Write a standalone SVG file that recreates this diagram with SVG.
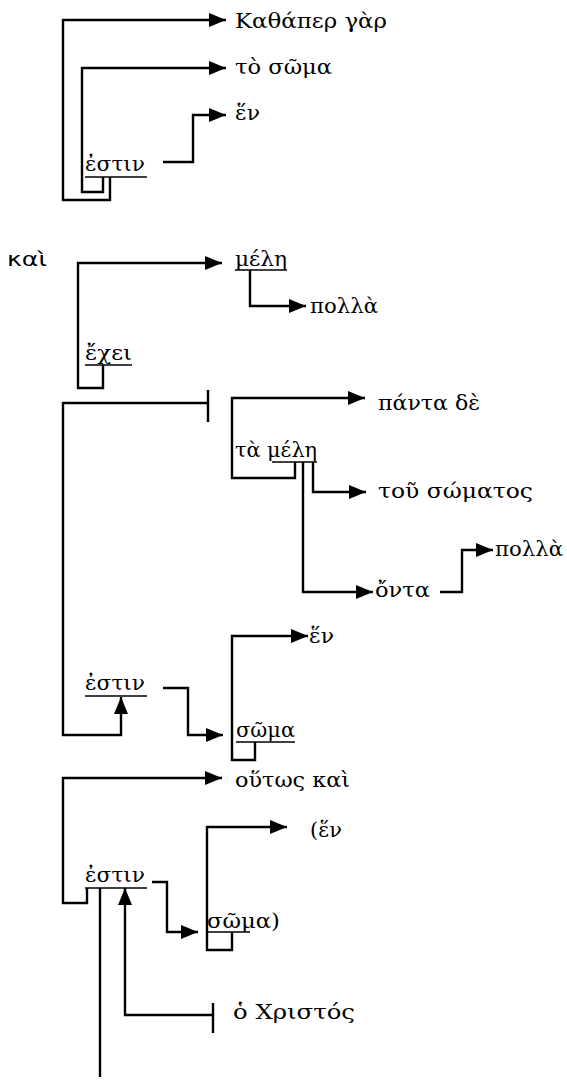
<svg xmlns="http://www.w3.org/2000/svg" width="567" height="1084" viewBox="0 0 567 1084">
<defs>
<marker id="ah" markerUnits="userSpaceOnUse" markerWidth="18" markerHeight="14" refX="17" refY="7" orient="auto">
<path d="M0,0 L17,7 L0,14 Z" fill="#000"/>
</marker>
<style>
.t{font-family:"DejaVu Serif","Liberation Serif",serif;font-size:20px;fill:#000}
.s{font-family:"DejaVu Sans","Noto Sans",sans-serif;font-size:20px;fill:#000}
.c{fill:none;stroke:#000;stroke-width:2.4}
.a{marker-end:url(#ah)}
.u{fill:none;stroke:#000;stroke-width:1.5}
</style>
</defs>
<rect width="567" height="1084" fill="#fff"/>
<g id="connectors">
<path class="c a" d="M110,177 V200 H63 V20 H226"/>
<path class="c a" d="M103,177 V192 H82 V68 H226"/>
<path class="c a" d="M163,162 H193 V115 H226"/>
<path class="c a" d="M103,365 V388 H78 V263 H222"/>
<path class="c a" d="M250,270 V306 H306"/>
<path class="c a" d="M208,403 H63 V735 H121 V697"/>
<path class="c" d="M208,390 V422"/>
<path class="c a" d="M295,462 V478 H232 V398 H365"/>
<path class="c a" d="M313,462 V492 H366"/>
<path class="c a" d="M303,462 V592 H373"/>
<path class="c a" d="M440,592 H462 V550 H493"/>
<path class="c a" d="M163,688 H188 V735 H223"/>
<path class="c a" d="M255,742 V760 H232 V636 H308"/>
<path class="c a" d="M87,888 V903 H63 V778 H222"/>
<path class="c" d="M100,888 V1077"/>
<path class="c a" d="M213,1015 H125 V888"/>
<path class="c" d="M213,1003 V1033"/>
<path class="c a" d="M152,882 H167 V932 H198"/>
<path class="c a" d="M232,932 V950 H207 V827 H287"/>
</g>
<g id="n1"><text class="t" x="235" y="28" textLength="152" lengthAdjust="spacingAndGlyphs">Καθάπερ γὰρ</text></g>
<g id="n2"><text class="t" x="235" y="74" textLength="97" lengthAdjust="spacingAndGlyphs">τὸ σῶμα</text></g>
<g id="n3"><text class="t" x="235" y="120" textLength="25" lengthAdjust="spacingAndGlyphs">ἕν</text></g>
<g id="n4"><text class="t" x="85" y="171" textLength="60" lengthAdjust="spacingAndGlyphs">ἐστιν</text><line class="u" x1="85" y1="177" x2="147" y2="177"/></g>
<g id="n5"><text class="s" x="7" y="266" textLength="40" lengthAdjust="spacingAndGlyphs">καὶ</text></g>
<g id="n6"><text class="t" x="235" y="266" textLength="52" lengthAdjust="spacingAndGlyphs">μέλη</text><line class="u" x1="235" y1="270" x2="287" y2="270"/></g>
<g id="n7"><text class="t" x="310" y="313" textLength="68" lengthAdjust="spacingAndGlyphs">πολλὰ</text></g>
<g id="n8"><text class="t" x="85" y="360" textLength="47" lengthAdjust="spacingAndGlyphs">ἔχει</text><line class="u" x1="85" y1="365" x2="132" y2="365"/></g>
<g id="n9"><text class="t" x="378" y="410" textLength="102" lengthAdjust="spacingAndGlyphs">πάντα δὲ</text></g>
<g id="n10"><text class="t" x="235" y="457" textLength="82" lengthAdjust="spacingAndGlyphs">τὰ μέλη</text><line class="u" x1="272" y1="462" x2="317" y2="462"/></g>
<g id="n11"><text class="t" x="378" y="498" textLength="155" lengthAdjust="spacingAndGlyphs">τοῦ σώματος</text></g>
<g id="n12"><text class="t" x="375" y="597" textLength="55" lengthAdjust="spacingAndGlyphs">ὄντα</text></g>
<g id="n13"><text class="t" x="495" y="556" textLength="68" lengthAdjust="spacingAndGlyphs">πολλὰ</text></g>
<g id="n14"><text class="t" x="309" y="643" textLength="25" lengthAdjust="spacingAndGlyphs">ἕν</text></g>
<g id="n15"><text class="t" x="85" y="690" textLength="60" lengthAdjust="spacingAndGlyphs">ἐστιν</text><line class="u" x1="85" y1="696" x2="147" y2="696"/></g>
<g id="n16"><text class="t" x="236" y="737" textLength="59" lengthAdjust="spacingAndGlyphs">σῶμα</text><line class="u" x1="236" y1="742" x2="295" y2="742"/></g>
<g id="n17"><text class="t" x="235" y="787" textLength="115" lengthAdjust="spacingAndGlyphs">οὕτως καὶ</text></g>
<g id="n18"><text class="t" x="310" y="837" textLength="32" lengthAdjust="spacingAndGlyphs">(ἕν</text></g>
<g id="n19"><text class="t" x="85" y="882" textLength="60" lengthAdjust="spacingAndGlyphs">ἐστιν</text><line class="u" x1="85" y1="888" x2="147" y2="888"/></g>
<g id="n20"><text class="t" x="207" y="928" textLength="73" lengthAdjust="spacingAndGlyphs">σῶμα)</text><line class="u" x1="207" y1="932" x2="250" y2="932"/></g>
<g id="n21"><text class="t" x="233" y="1019" textLength="122" lengthAdjust="spacingAndGlyphs">ὁ Χριστός</text></g>
</svg>
